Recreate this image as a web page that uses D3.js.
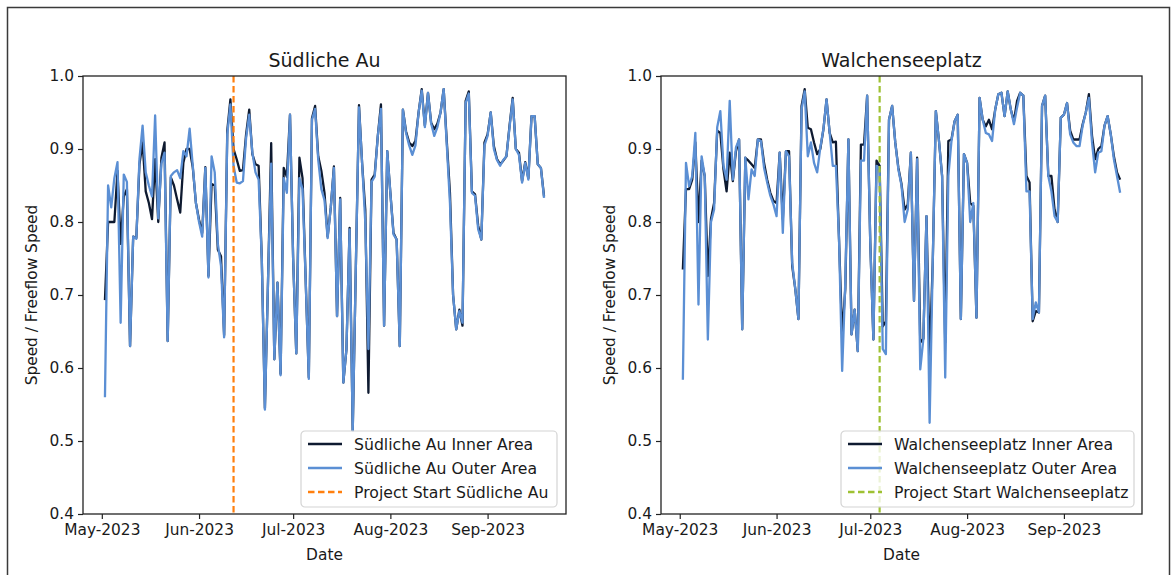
<!DOCTYPE html>
<html>
<head>
<meta charset="utf-8">
<script src="https://cdn.jsdelivr.net/npm/d3@7"></script>
<style>
  html, body { margin: 0; padding: 0; background: #fff; }
  svg text { font-family: "DejaVu Sans", sans-serif; fill: #1a1a1a; }
</style>
</head>
<body>
<svg id="chart" width="1175" height="575"></svg>
<script>
// Daily series, first day 2023-05-02, last day 2023-09-19
const firstDay = "2023-05-02";

const suedInner = [
  0.693,0.800,0.800,0.800,0.870,0.770,0.835,0.845,0.630,0.780,
  0.778,0.879,0.909,0.842,0.826,0.804,0.886,0.800,0.888,0.909,
  0.637,0.861,0.850,0.831,0.813,0.881,0.900,0.900,0.875,0.826,
  0.803,0.785,0.875,0.726,0.852,0.850,0.762,0.753,0.645,0.925,
  0.968,0.900,0.886,0.870,0.871,0.920,0.954,0.893,0.879,0.877,
  0.750,0.545,0.720,0.908,0.612,0.717,0.592,0.874,0.862,0.947,
  0.750,0.620,0.888,0.860,0.720,0.587,0.942,0.959,0.890,0.870,
  0.840,0.780,0.820,0.876,0.671,0.833,0.580,0.626,0.792,0.514,
  0.740,0.960,0.880,0.817,0.566,0.858,0.865,0.918,0.961,0.658,
  0.897,0.840,0.785,0.776,0.630,0.954,0.924,0.909,0.904,0.911,
  0.950,0.982,0.932,0.977,0.936,0.927,0.935,0.950,0.982,0.910,
  0.840,0.700,0.653,0.680,0.658,0.966,0.979,0.842,0.838,0.795,
  0.776,0.909,0.920,0.950,0.904,0.886,0.879,0.884,0.890,0.932,
  0.970,0.900,0.895,0.856,0.882,0.860,0.945,0.945,0.879,0.874,
  0.835
];
const suedOuter = [
  0.560,0.850,0.820,0.860,0.882,0.662,0.865,0.855,0.630,0.780,
  0.777,0.886,0.932,0.868,0.850,0.835,0.946,0.805,0.880,0.895,
  0.637,0.863,0.868,0.871,0.860,0.897,0.890,0.928,0.877,0.826,
  0.800,0.780,0.874,0.724,0.890,0.868,0.770,0.740,0.642,0.920,
  0.961,0.877,0.854,0.853,0.856,0.915,0.947,0.895,0.868,0.858,
  0.750,0.543,0.720,0.880,0.612,0.717,0.590,0.860,0.840,0.947,
  0.750,0.620,0.860,0.845,0.720,0.585,0.940,0.955,0.885,0.845,
  0.830,0.778,0.820,0.874,0.671,0.831,0.580,0.626,0.790,0.514,
  0.740,0.957,0.880,0.800,0.626,0.855,0.862,0.918,0.955,0.658,
  0.897,0.840,0.783,0.776,0.630,0.954,0.922,0.905,0.892,0.905,
  0.950,0.980,0.930,0.977,0.935,0.918,0.930,0.950,0.982,0.905,
  0.826,0.700,0.653,0.678,0.662,0.963,0.976,0.840,0.836,0.790,
  0.776,0.905,0.918,0.950,0.900,0.885,0.877,0.885,0.890,0.930,
  0.968,0.900,0.892,0.854,0.881,0.858,0.945,0.945,0.879,0.874,
  0.833
];

const walchInner = [
  0.735,0.845,0.845,0.858,0.909,0.800,0.884,0.863,0.726,0.804,
  0.826,0.925,0.922,0.872,0.842,0.895,0.856,0.897,0.913,0.653,
  0.888,0.884,0.879,0.874,0.913,0.913,0.881,0.858,0.840,0.829,
  0.826,0.895,0.804,0.897,0.897,0.740,0.708,0.667,0.959,0.982,
  0.929,0.927,0.909,0.893,0.900,0.927,0.968,0.922,0.909,0.910,
  0.776,0.644,0.708,0.913,0.646,0.680,0.623,0.906,0.906,0.973,
  0.772,0.639,0.884,0.877,0.657,0.664,0.940,0.959,0.909,0.874,
  0.852,0.817,0.824,0.895,0.692,0.888,0.635,0.640,0.808,0.612,
  0.744,0.952,0.911,0.863,0.635,0.911,0.913,0.938,0.947,0.667,
  0.893,0.881,0.826,0.822,0.669,0.970,0.940,0.931,0.940,0.927,
  0.954,0.975,0.977,0.945,0.979,0.954,0.938,0.966,0.977,0.973,
  0.863,0.854,0.664,0.678,0.676,0.959,0.973,0.863,0.863,0.817,
  0.800,0.943,0.947,0.963,0.925,0.913,0.913,0.913,0.934,0.950,
  0.975,0.918,0.886,0.900,0.904,0.932,0.945,0.920,0.890,0.868,
  0.858
];
const walchOuter = [
  0.584,0.881,0.849,0.863,0.922,0.687,0.890,0.863,0.639,0.800,
  0.817,0.930,0.952,0.877,0.858,0.966,0.858,0.902,0.913,0.653,
  0.888,0.831,0.872,0.863,0.913,0.911,0.874,0.854,0.836,0.824,
  0.808,0.895,0.785,0.897,0.890,0.744,0.708,0.667,0.954,0.979,
  0.890,0.909,0.881,0.868,0.902,0.927,0.968,0.922,0.877,0.877,
  0.776,0.596,0.717,0.913,0.646,0.680,0.623,0.884,0.884,0.973,
  0.772,0.639,0.877,0.872,0.626,0.619,0.940,0.959,0.909,0.872,
  0.850,0.800,0.817,0.895,0.692,0.886,0.598,0.640,0.808,0.525,
  0.744,0.952,0.911,0.863,0.587,0.863,0.911,0.938,0.947,0.667,
  0.893,0.881,0.800,0.826,0.669,0.970,0.940,0.922,0.920,0.911,
  0.954,0.975,0.977,0.945,0.979,0.954,0.934,0.957,0.977,0.973,
  0.842,0.842,0.667,0.690,0.676,0.959,0.973,0.863,0.842,0.808,
  0.800,0.943,0.947,0.963,0.920,0.909,0.904,0.904,0.932,0.950,
  0.970,0.909,0.868,0.895,0.897,0.932,0.945,0.920,0.886,0.863,
  0.840
];

const yTicks = [0.4, 0.5, 0.6, 0.7, 0.8, 0.9, 1.0];
const monthTicks = ["2023-05-01", "2023-06-01", "2023-07-01", "2023-08-01", "2023-09-01"];

const panels = [
  {
    title: "Südliche Au",
    inner: suedInner, outer: suedOuter,
    start: "2023-06-12",
    startColor: "#ff7f0e",
    labels: ["Südliche Au Inner Area", "Südliche Au Outer Area", "Project Start Südliche Au"],
    box: { left: 83, right: 566, top: 76, bottom: 514 },
    yLabelX: 32,
    legend: { x: 301, w: 256 }
  },
  {
    title: "Walchenseeplatz",
    inner: walchInner, outer: walchOuter,
    start: "2023-07-04",
    startColor: "#9ec133",
    labels: ["Walchenseeplatz Inner Area", "Walchenseeplatz Outer Area", "Project Start Walchenseeplatz"],
    box: { left: 661, right: 1142, top: 76, bottom: 514 },
    yLabelX: 610,
    legend: { x: 841, w: 293 }
  }
];

const innerColor = "#0e1a30";
const outerColor = "#5b8fd4";
const labelSize = 15.4;

const parse = d3.utcParse("%Y-%m-%d");
const svg = d3.select("#chart");

// figure frame
svg.append("rect")
  .attr("x", 7.5).attr("y", 7.5)
  .attr("width", 1162).attr("height", 575)
  .attr("fill", "none").attr("stroke", "#3a3a3a").attr("stroke-width", 1.5);

const day0 = parse(firstDay);
const dayAt = i => d3.utcDay.offset(day0, i);

panels.forEach(p => {
  const n = p.inner.length;
  const lastDay = dayAt(n - 1);
  const span = lastDay - day0;
  const x = d3.scaleUtc()
    .domain([new Date(+day0 - 0.05 * span), new Date(+lastDay + 0.05 * span)])
    .range([p.box.left, p.box.right]);
  const y = d3.scaleLinear().domain([0.4, 1.0]).range([p.box.bottom, p.box.top]);

  const g = svg.append("g");

  const clipId = "clip-" + p.box.left;
  g.append("clipPath").attr("id", clipId)
    .append("rect")
    .attr("x", p.box.left).attr("y", p.box.top)
    .attr("width", p.box.right - p.box.left).attr("height", p.box.bottom - p.box.top);

  const line = d3.line().x((d, i) => x(dayAt(i))).y(d => y(d));

  const plot = g.append("g").attr("clip-path", `url(#${clipId})`);
  plot.append("path").datum(p.inner)
    .attr("d", line).attr("fill", "none")
    .attr("stroke", innerColor).attr("stroke-width", 2.3).attr("stroke-linejoin", "round");
  plot.append("path").datum(p.outer)
    .attr("d", line).attr("fill", "none")
    .attr("stroke", outerColor).attr("stroke-width", 2.3).attr("stroke-linejoin", "round");

  const sx = x(parse(p.start));
  plot.append("line")
    .attr("x1", sx).attr("x2", sx)
    .attr("y1", p.box.top).attr("y2", p.box.bottom)
    .attr("stroke", p.startColor).attr("stroke-width", 2.2)
    .attr("stroke-dasharray", "6.5,3.5");

  // axes
  const xAxis = d3.axisBottom(x)
    .tickValues(monthTicks.map(parse))
    .tickFormat(d3.utcFormat("%b-%Y"))
    .tickSize(5).tickPadding(5);
  const gx = g.append("g").attr("transform", `translate(0,${p.box.bottom})`).call(xAxis);

  const yAxis = d3.axisLeft(y)
    .tickValues(yTicks)
    .tickFormat(d3.format(".1f"))
    .tickSize(5).tickPadding(4);
  const gy = g.append("g").attr("transform", `translate(${p.box.left},0)`).call(yAxis);

  [gx, gy].forEach(ax => {
    ax.select(".domain").remove();
    ax.selectAll(".tick line").attr("stroke", "#222").attr("stroke-width", 1.2);
    ax.selectAll(".tick text").attr("font-size", labelSize).attr("fill", "#1a1a1a")
      .style("font-family", "DejaVu Sans, sans-serif");
  });

  // spines
  g.append("rect")
    .attr("x", p.box.left).attr("y", p.box.top)
    .attr("width", p.box.right - p.box.left).attr("height", p.box.bottom - p.box.top)
    .attr("fill", "none").attr("stroke", "#222").attr("stroke-width", 1.3);

  // title and axis labels
  const cx = (p.box.left + p.box.right) / 2;
  g.append("text").attr("x", cx).attr("y", 67)
    .attr("text-anchor", "middle").attr("font-size", 19).text(p.title);
  g.append("text").attr("x", cx).attr("y", 560)
    .attr("text-anchor", "middle").attr("font-size", labelSize).text("Date");
  g.append("text")
    .attr("transform", `translate(${p.yLabelX},${(p.box.top + p.box.bottom) / 2}) rotate(-90)`)
    .attr("text-anchor", "middle").attr("dominant-baseline", "central")
    .attr("font-size", labelSize).text("Speed / Freeflow Speed");

  // legend
  const lg = g.append("g").attr("transform", `translate(${p.legend.x},431)`);
  lg.append("rect")
    .attr("x", 0).attr("y", 0).attr("width", p.legend.w).attr("height", 76)
    .attr("rx", 4).attr("fill", "#fff").attr("fill-opacity", 0.8)
    .attr("stroke", "#d4d4d4").attr("stroke-width", 1.2);
  const styles = [
    { color: innerColor, dash: null },
    { color: outerColor, dash: null },
    { color: p.startColor, dash: "6.5,3.5" }
  ];
  p.labels.forEach((lab, k) => {
    const yy = 13 + k * 24;
    lg.append("line")
      .attr("x1", 7).attr("x2", 41).attr("y1", yy).attr("y2", yy)
      .attr("stroke", styles[k].color).attr("stroke-width", 2.3)
      .attr("stroke-dasharray", styles[k].dash);
    lg.append("text").attr("x", 53).attr("y", yy)
      .attr("dominant-baseline", "central").attr("font-size", 15.7).text(lab);
  });
});
</script>
</body>
</html>
